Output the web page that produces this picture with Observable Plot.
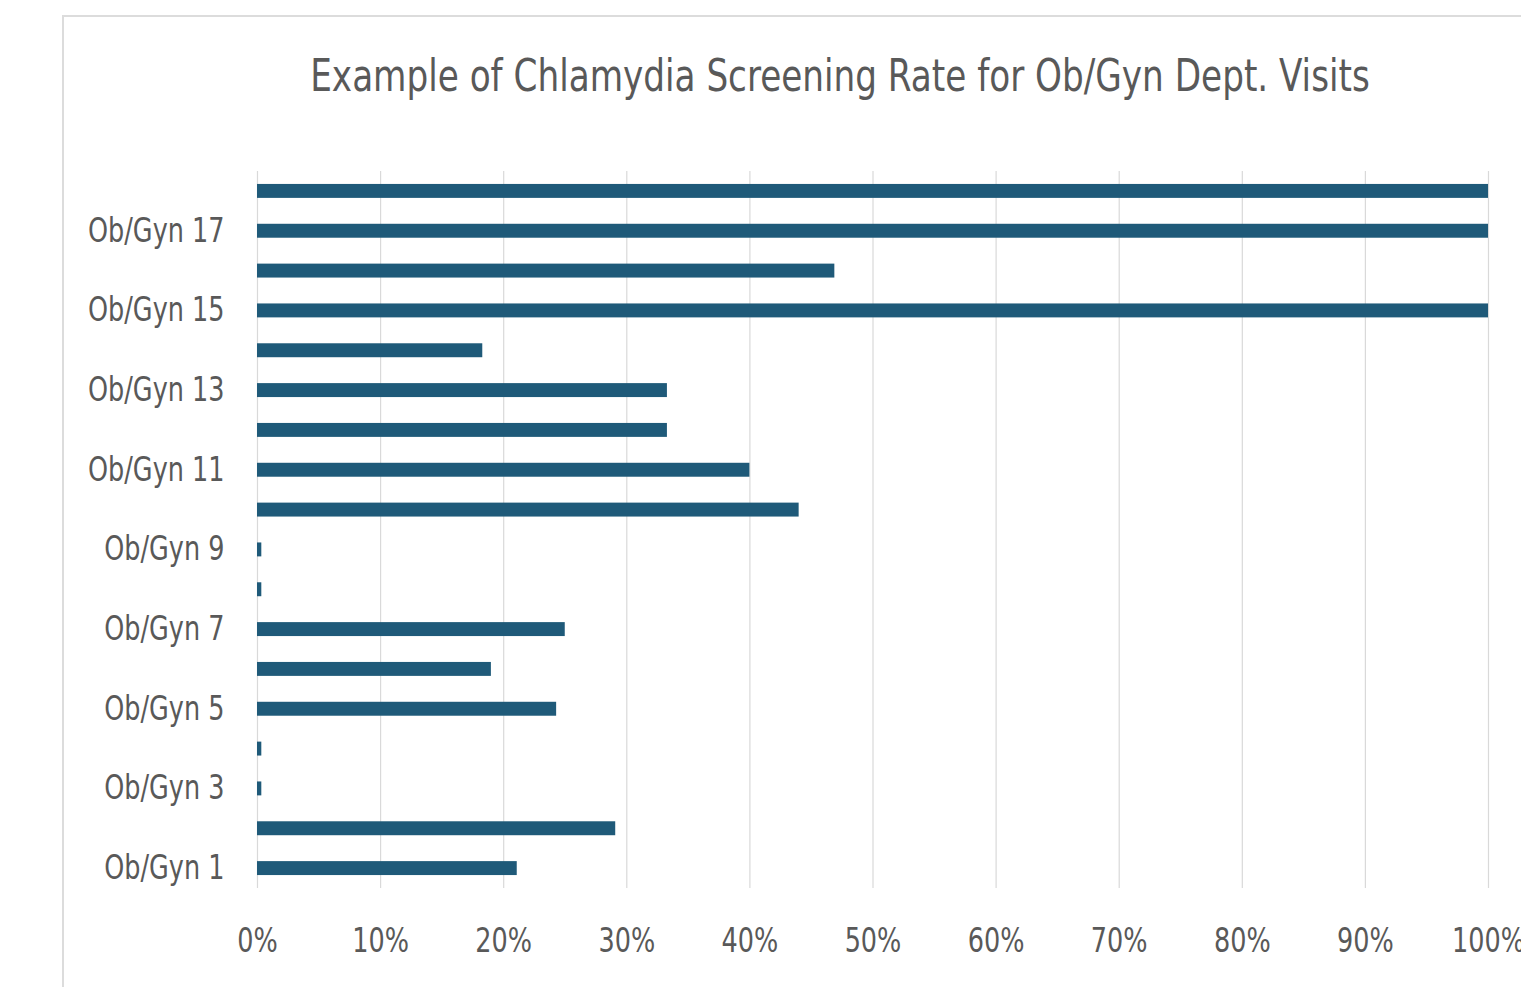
<!DOCTYPE html>
<html>
<head>
<meta charset="utf-8">
<script src="https://cdn.jsdelivr.net/npm/d3@7"></script>
<script src="https://cdn.jsdelivr.net/npm/@observablehq/plot@0.6"></script>
<style>
  html, body { margin: 0; padding: 0; background: #fff; overflow: hidden; width: 1521px; height: 987px; }
  #frame { position: absolute; left: 62px; top: 15px; width: 1600px; height: 1100px;
           border-left: 2px solid #dcdcdc; border-top: 2px solid #dcdcdc; box-sizing: border-box; }
  #title { position: absolute; left: 0; width: 1680px; top: 50px; text-align: center;
           font-family: "DejaVu Sans Condensed", "Liberation Sans Narrow", Roboto, sans-serif;
           font-size: 44px; color: #595959; white-space: nowrap;
           transform: scaleX(0.865); transform-origin: 840px 0; }
  #chart { position: absolute; left: 0; top: 0; }
</style>
</head>
<body>
<div id="frame"></div>
<div id="title">Example of Chlamydia Screening Rate for Ob/Gyn Dept. Visits</div>
<div id="chart"></div>
<script>
const categories = ["Ob/Gyn 1","Ob/Gyn 2","Ob/Gyn 3","Ob/Gyn 4","Ob/Gyn 5","Ob/Gyn 6","Ob/Gyn 7","Ob/Gyn 8","Ob/Gyn 9",
  "Ob/Gyn 10","Ob/Gyn 11","Ob/Gyn 12","Ob/Gyn 13","Ob/Gyn 14","Ob/Gyn 15","Ob/Gyn 16","Ob/Gyn 17","Ob/Gyn 18"];
const rates = [21.1, 29.1, 0.35, 0.35, 24.3, 19.0, 25.0, 0.35, 0.35, 44.0, 40.0, 33.3, 33.3, 18.3, 100, 46.9, 100, 100];
const yTickLabels = ["Ob/Gyn 1","Ob/Gyn 3","Ob/Gyn 5","Ob/Gyn 7","Ob/Gyn 9","Ob/Gyn 11","Ob/Gyn 13","Ob/Gyn 15","Ob/Gyn 17"];
const xTicks = [0, 10, 20, 30, 40, 50, 60, 70, 80, 90, 100];

const data = categories.map((c, i) => ({name: c, rate: rates[i]}));
const font = '"DejaVu Sans Condensed", "Liberation Sans Narrow", Roboto, sans-serif';

const chart = Plot.plot({
  width: 1521,
  height: 987,
  marginLeft: 257,
  marginRight: 33,
  marginTop: 171,
  marginBottom: 99,
  style: {fontFamily: font, color: "#595959", background: "transparent", overflow: "visible"},
  x: {domain: [0, 100], round: false},
  y: {domain: categories.slice().reverse(), paddingInner: 0.65, paddingOuter: 0.325, align: 0.5, round: false},
  marks: [
    Plot.ruleX(xTicks, {stroke: "#d9d9d9", strokeWidth: 1.2}),
    Plot.barX(data, {x: "rate", y: "name", fill: "#1f5a79"}),
    Plot.axisX({ticks: xTicks, tickFormat: d => d + "%", tickSize: 0, tickPadding: 40,
                fontSize: 33, fill: "#595959", label: null}),
    Plot.axisY({ticks: yTickLabels, tickSize: 0, tickPadding: 33, fontSize: 33,
                fill: "#595959", label: null})
  ]
});

// condense the tick label glyphs horizontally, keeping each label's anchor point
const sx = 0.86;
chart.querySelectorAll('g[aria-label$="tick label"] text').forEach(t => {
  const tr = t.getAttribute("transform") || "";
  t.setAttribute("transform", `${tr} scale(${sx},1)`);
});

document.getElementById("chart").appendChild(chart);
</script>
</body>
</html>
